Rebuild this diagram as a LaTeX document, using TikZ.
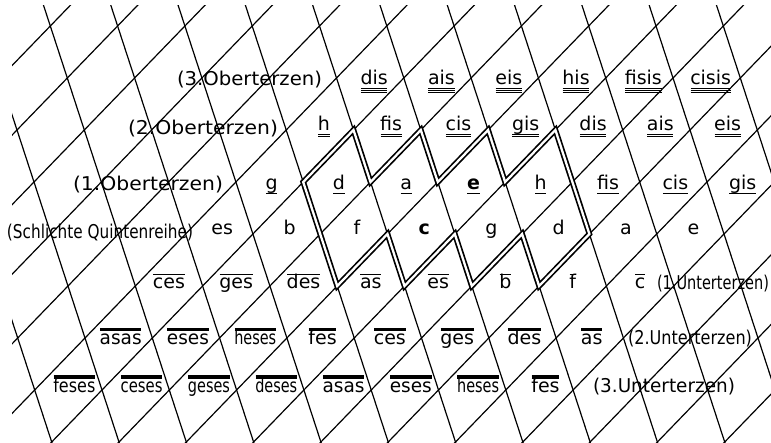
\documentclass[tikz,border=0pt]{standalone}
\usepackage{fontspec}
\setmainfont{DejaVu Sans}
\usepackage{graphicx}
\newsavebox\notebox
\newcommand\capw[1]{\sbox\notebox{#1}\ifdim\wd\notebox>42pt\resizebox{42pt}{\height}{\usebox\notebox}\else\usebox\notebox\fi}
\newcommand\fitw[2]{\resizebox{#1}{\height}{#2}}
\tikzset{
  gridline/.style={line width=1.2pt},
  frame/.style={draw,line width=1.7pt,double,double distance=2.3pt,line join=miter},
  note/.style={anchor=mid,inner sep=0pt,font=\fontsize{19}{22}\selectfont},
  rowlabel/.style={anchor=mid,inner sep=0pt,font=\fontsize{19}{22}\selectfont},
  bar/.style={line width=1.2pt,shorten <=0.5pt,shorten >=0.5pt}
}
\begin{document}
\begin{tikzpicture}[x={(67.3pt,0pt)},y={(17pt,-52pt)}]
\useasboundingbox (0pt,0pt) rectangle (771pt,-443pt);
\begin{scope}
\clip (12pt,-6pt) rectangle (771pt,-443pt);
\begin{scope}[shift={(0pt,-78pt)}]
\foreach \m in {-3,...,12} \draw[gridline] (\m,-2) -- (\m,8);
\foreach \s in {-2,...,18} \draw[gridline] (\s+2,-2) -- (\s-8,8);
\draw[frame] (4,2) -- (5,1) -- (5,2) -- (6,1) -- (6,2) -- (7,1) -- (7,2) -- (8,1) -- (8,2) -- (8,3) -- (7,4) -- (7,3) -- (6,4) -- (6,3) -- (5,4) -- (5,3) -- (4,4) -- (4,3) -- cycle;
\foreach \r/\ks/\dx/\dy/\bars/\names in {
  0/5/4/-4/{-4,-5.8,-7.6}/{dis,ais,eis,his,fisis,cisis},
  1/4/4/2/{-4,-5.8}/{h,fis,cis,gis,dis,ais,eis},
  2/3/2/-5/{-4}/{g,d,a,\textbf{e},h,fis,cis,gis},
  4/1/0/0/{14}/{ces,ges,des,as,es,b,f,c},
  5/0/2/-4/{14,15.8}/{asas,eses,heses,fes,ces,ges,des,as},
  6/-1/6/0/{14,15.8,17.6}/{feses,ceses,geses,deses,asas,eses,heses,fes}}
{
  \foreach \nm [count=\i] in \names {
    \node[note,xshift=\dx pt,yshift=\dy pt] (n\r-\i) at ({\ks+\i-0.5},\r) {\capw{\nm}};
    \foreach \b in \bars
      \draw[bar] ([yshift=\b pt]n\r-\i.base west) -- ([yshift=\b pt]n\r-\i.base east);
  }
}
\foreach \nm [count=\i] in {es,b,f,\textbf{c},g,d,a,e}
  \node[note,xshift=3pt,yshift=2pt] (n3-\i) at ({1.5+\i},3) {\capw{\nm}};
\end{scope}
\end{scope}
\node[rowlabel] (ober3) at (249.5pt,-83pt) {\fitw{145pt}{(3.Oberterzen)}};
\node[rowlabel] (ober2) at (203pt,-132pt) {\fitw{150pt}{(2.Oberterzen)}};
\node[rowlabel] (ober1) at (148pt,-188pt) {\fitw{150pt}{(1.Oberterzen)}};
\node[rowlabel] (quinten) at (100pt,-236pt) {\fitw{186pt}{(Schlichte Quintenreihe)}};
\node[rowlabel] (unter1) at (713pt,-287pt) {\fitw{112pt}{(1.Unterterzen)}};
\node[rowlabel] (unter2) at (690pt,-342pt) {\fitw{124pt}{(2.Unterterzen)}};
\node[rowlabel] (unter3) at (664pt,-390pt) {\fitw{142pt}{(3.Unterterzen)}};
\end{tikzpicture}
\end{document}
